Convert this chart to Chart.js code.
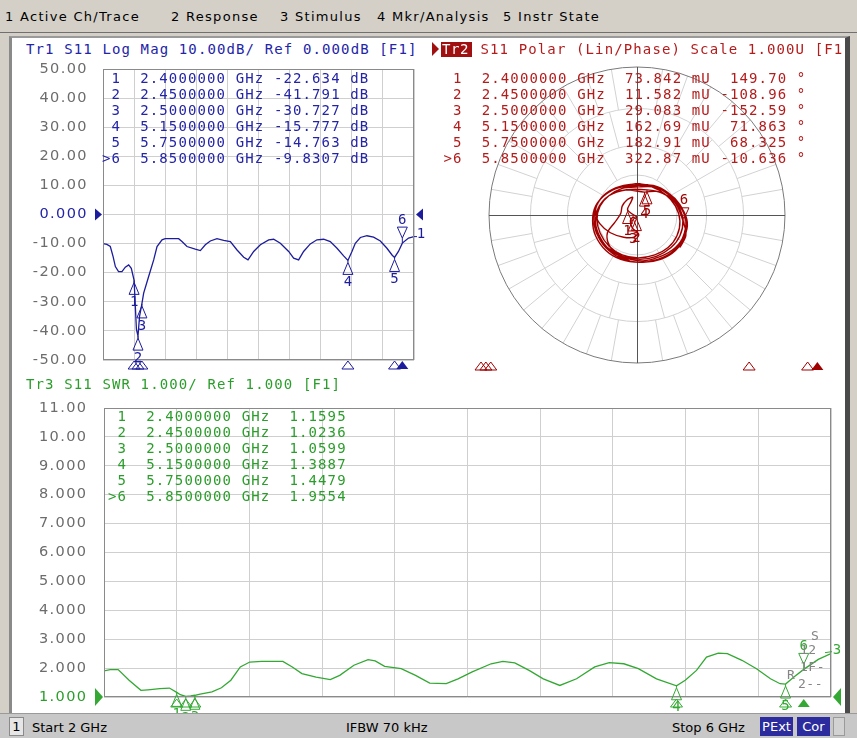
<!DOCTYPE html>
<html><head><meta charset="utf-8">
<title>VNA S11</title>
<script src="https://cdn.jsdelivr.net/npm/chart.js@4.4.1/dist/chart.umd.min.js"></script>
<style>
html,body{margin:0;padding:0}
body{width:857px;height:738px;position:relative;overflow:hidden;background:#d4d0c8;font-family:"DejaVu Sans",sans-serif}
.t{position:absolute;white-space:pre}
.menu{top:9px;font-size:13px;line-height:15px;letter-spacing:1.3px;color:#000}
#menuline{position:absolute;left:0;top:32px;width:857px;height:1px;background:#707070}
#panel{position:absolute;left:9px;top:36px;width:833px;height:676px;background:#fff;border-left:3px solid #8a8a8a;border-top:2px solid #9a9a9a;border-right:5px solid #4a4a4a}
.mono{font-family:"DejaVu Sans Mono",monospace;font-size:14px;letter-spacing:1.12px}
canvas{position:absolute}
#status{position:absolute;left:0;top:713px;width:857px;height:25px;background:#c8c8c8;border-top:1px solid #9a9a9a}
.st{position:absolute;top:720px;font-size:13px;line-height:15px;white-space:pre;color:#000}
.box{position:absolute;top:717px;height:19px;line-height:19px;font-size:13px;text-align:center;white-space:pre}
.blue{color:#2424a8}.red{color:#b41c1c}.green{color:#2a9e2a}.gray{color:#858585}
</style>
</head>
<body>
<div class="t menu" style="left:5px">1 Active Ch/Trace</div>
<div class="t menu" style="left:171px">2 Response</div>
<div class="t menu" style="left:280px">3 Stimulus</div>
<div class="t menu" style="left:377px">4 Mkr/Analysis</div>
<div class="t menu" style="left:503px">5 Instr State</div>
<div id="menuline"></div>
<div id="panel"></div>

<canvas id="c1" width="432" height="320" style="left:0;top:60px"></canvas>
<canvas id="c2" width="420" height="320" style="left:425px;top:60px"></canvas>
<canvas id="c3" width="845" height="316" style="left:0;top:398px"></canvas>

<!-- Trace 1 header + marker table -->
<div class="t mono blue" style="left:26px;top:40.7px;line-height:16px">Tr1 S11 Log Mag 10.00dB/ Ref 0.000dB [F1]</div>
<div class="t mono blue" style="left:102px;top:71px;line-height:15.9px"> 1  2.4000000 GHz -22.634 dB
 2  2.4500000 GHz -41.791 dB
 3  2.5000000 GHz -30.727 dB
 4  5.1500000 GHz -15.777 dB
 5  5.7500000 GHz -14.763 dB
>6  5.8500000 GHz -9.8307 dB</div>

<!-- Trace 2 header + marker table -->
<div style="position:absolute;left:432px;top:42px;width:0;height:0;border-top:7px solid transparent;border-bottom:7px solid transparent;border-left:7px solid #a01010"></div>
<div class="t mono" style="left:441px;top:41.5px;width:31px;height:15px;line-height:15px;background:#a01010;color:#fff;letter-spacing:0.6px;padding-left:1px;box-sizing:border-box">Tr2</div>
<div class="t mono red" style="left:480.5px;top:40.7px;line-height:16px;width:364px;overflow:hidden">S11 Polar (Lin/Phase) Scale 1.000U [F1]</div>
<div class="t mono red" style="left:443.5px;top:71px;line-height:15.9px"> 1  2.4000000 GHz  73.842 mU  149.70 °
 2  2.4500000 GHz  11.582 mU -108.96 °
 3  2.5000000 GHz  29.083 mU -152.59 °
 4  5.1500000 GHz  162.69 mU  71.863 °
 5  5.7500000 GHz  182.91 mU  68.325 °
>6  5.8500000 GHz  322.87 mU -10.636 °</div>

<!-- Trace 3 header + marker table -->
<div class="t mono green" style="left:26px;top:375.5px;line-height:16px">Tr3 S11 SWR 1.000/ Ref 1.000 [F1]</div>
<div class="t mono green" style="left:108px;top:408.3px;line-height:16px"> 1  2.4000000 GHz  1.1595
 2  2.4500000 GHz  1.0236
 3  2.5000000 GHz  1.0599
 4  5.1500000 GHz  1.3887
 5  5.7500000 GHz  1.4479
>6  5.8500000 GHz  1.9554</div>

<!-- port annotations near SWR trace end -->
<div class="t mono gray" style="left:811px;top:628px;font-size:13px;letter-spacing:0.5px;line-height:15px">S</div>
<div class="t mono gray" style="left:800px;top:642px;font-size:13px;letter-spacing:0.5px;line-height:15px">12</div>
<div class="t mono gray" style="left:800px;top:659px;font-size:13px;letter-spacing:0.5px;line-height:15px">1F-</div>
<div class="t mono gray" style="left:787px;top:667px;font-size:13px;letter-spacing:0.5px;line-height:15px">R</div>
<div class="t mono gray" style="left:798px;top:676px;font-size:13px;letter-spacing:0.5px;line-height:15px">2--</div>

<!-- status bar -->
<div id="status"></div>
<div class="box" style="left:9px;width:15px;background:#e6e6e6;border:1px solid #8a8a8a;box-sizing:border-box;line-height:17px">1</div>
<div class="st" style="left:32px">Start 2 GHz</div>
<div class="st" style="left:346px">IFBW 70 kHz</div>
<div class="st" style="left:672px">Stop 6 GHz</div>
<div class="box" style="left:760px;width:33px;background:#2c2c9e;color:#fff">PExt</div>
<div class="box" style="left:797px;width:33px;background:#2c2c9e;color:#fff">Cor</div>
<div class="box" style="left:833px;width:12px;background:#d2d2d2;border:1px solid #9a9a9a;box-sizing:border-box"></div>

<script>
// ---------------- data ----------------
const FREQ_LM = [2.000,2.050,2.094,2.130,2.159,2.200,2.244,2.287,2.330,2.364,2.400,2.416,2.430,2.450,2.470,2.500,2.523,2.587,2.652,2.695,2.759,2.800,2.973,3.016,3.080,3.187,3.252,3.316,3.380,3.466,3.552,3.638,3.724,3.810,3.865,3.938,4.024,4.131,4.195,4.281,4.388,4.452,4.516,4.580,4.666,4.752,4.838,4.923,5.010,5.095,5.150,5.202,5.245,5.310,5.395,5.480,5.567,5.652,5.720,5.750,5.800,5.850,5.930,6.000];
const LOGMAG_DB = [-10.0,-10.3,-11.0,-14.5,-17.9,-19.6,-19.6,-18.1,-17.3,-18.5,-22.634,-31.7,-39.5,-41.791,-35.0,-30.727,-27.0,-21.3,-15.6,-11.0,-8.7,-8.3,-8.3,-9.3,-11.0,-11.9,-12.4,-10.4,-9.1,-8.3,-8.9,-9.3,-12.2,-14.7,-15.6,-12.7,-10.4,-8.7,-8.5,-9.9,-12.7,-15.0,-15.6,-12.7,-10.1,-8.7,-8.5,-9.3,-11.6,-14.2,-15.777,-12.7,-9.9,-7.9,-7.3,-7.8,-9.1,-11.6,-14.0,-14.763,-12.7,-9.8307,-8.1,-7.6];

const FREQ_SWR = [2.000,2.034,2.078,2.138,2.203,2.242,2.307,2.360,2.400,2.420,2.450,2.477,2.500,2.529,2.594,2.646,2.698,2.750,2.802,2.867,2.984,3.036,3.089,3.167,3.245,3.297,3.375,3.453,3.492,3.544,3.635,3.714,3.792,3.883,3.948,4.026,4.130,4.195,4.260,4.339,4.417,4.508,4.600,4.700,4.780,4.860,4.940,5.040,5.150,5.198,5.260,5.315,5.380,5.430,5.510,5.590,5.667,5.720,5.750,5.796,5.850,5.930,6.000];
const SWR_VAL = [1.90,1.95,1.95,1.58,1.23,1.25,1.29,1.31,1.1595,1.08,1.0236,1.04,1.0599,1.10,1.18,1.32,1.58,2.04,2.21,2.23,2.23,2.04,1.81,1.69,1.60,1.75,2.10,2.29,2.25,2.06,1.98,1.75,1.48,1.46,1.63,1.87,2.15,2.23,2.18,1.92,1.63,1.40,1.63,2.04,2.19,2.15,1.98,1.63,1.3887,1.58,1.92,2.38,2.52,2.50,2.27,1.98,1.63,1.46,1.4479,1.69,1.9554,2.30,2.50];

const POLAR_RE = [-0.05,-0.13,-0.19,-0.20,-0.15,-0.11,-0.10,-0.07,-0.03,-0.04,-0.064,-0.035,-0.004,-0.012,-0.026,-0.045,-0.03,0.005,-0.02,-0.09,-0.18,-0.25,
 -0.28,-0.26,-0.19,-0.09,0.02,
 0.12,0.21,0.28,0.31,0.29,0.23,0.13,0.02,-0.10,-0.20,-0.27,-0.29,-0.27,-0.20,-0.10,0.01,
 0.11,0.21,0.29,0.33,0.31,0.25,0.14,0.02,-0.11,-0.21,-0.28,-0.30,-0.28,-0.21,-0.11,0.00,
 0.10,0.19,0.26,0.29,0.27,0.21,0.12,0.01,-0.10,-0.19,-0.25,-0.27,-0.25,-0.19,-0.10,0.01,
 0.11,0.21,0.29,0.33,0.32,0.26,0.16,0.04,-0.08,-0.18,-0.25,-0.28,-0.26,-0.19,-0.08,0.0506,
 0.13,0.22,0.30,0.34,0.32,0.26,0.16,0.04,-0.09,-0.19,-0.26,-0.28,-0.26,-0.19,-0.07,0.0676,
 0.17,0.26,0.3173,0.33,0.29];
const POLAR_IM = [-0.31,-0.27,-0.20,-0.12,-0.05,0.01,0.06,0.10,0.12,0.09,0.037,0.008,-0.011,-0.024,-0.013,-0.04,-0.09,-0.12,-0.15,-0.15,-0.12,-0.06,
 0.01,0.09,0.16,0.20,0.21,
 0.19,0.14,0.06,-0.04,-0.14,-0.22,-0.28,-0.30,-0.28,-0.22,-0.13,-0.03,0.07,0.15,0.19,0.20,
 0.20,0.15,0.06,-0.04,-0.15,-0.24,-0.30,-0.32,-0.30,-0.24,-0.14,-0.04,0.06,0.14,0.19,0.21,
 0.19,0.14,0.06,-0.04,-0.14,-0.22,-0.27,-0.29,-0.27,-0.21,-0.12,-0.03,0.06,0.13,0.18,0.19,
 0.19,0.15,0.07,-0.03,-0.13,-0.22,-0.28,-0.31,-0.29,-0.24,-0.15,-0.05,0.05,0.13,0.17,0.1546,
 0.16,0.12,0.05,-0.05,-0.15,-0.24,-0.30,-0.32,-0.30,-0.24,-0.15,-0.05,0.05,0.13,0.17,0.170,
 0.15,0.08,-0.0596,-0.14,-0.22];

const MARKER_FREQ   = [2.40, 2.45, 2.50, 5.15, 5.75, 5.85];
const MARKER_LOGMAG = [-22.634, -41.791, -30.727, -15.777, -14.763, -9.8307];
const MARKER_SWR    = [1.1595, 1.0236, 1.0599, 1.3887, 1.4479, 1.9554];
const MARKER_MAG_U  = [0.073842, 0.011582, 0.029083, 0.16269, 0.18291, 0.32287];
const MARKER_PHASE  = [149.70, -108.96, -152.59, 71.863, 68.325, -10.636];
const ACTIVE_MARKER = 5;

const FREQ_GRID   = [2.0,2.4,2.8,3.2,3.6,4.0,4.4,4.8,5.2,5.6,6.0];
const LOGMAG_TICKS = [50,40,30,20,10,0,-10,-20,-30,-40,-50];
const SWR_TICKS    = [11,10,9,8,7,6,5,4,3,2,1];
const POLAR_RINGS  = [0.27,0.47,0.72,1.0];
const REF_LOGMAG = 0, REF_SWR = 1;

// ---------------- styles ----------------
const GRID='#cfcfcf', FRAME='#8a8a8a', TICKC='#6c6c6c';
const BLUE='#2424a8', BLUE_TR='#1c1c9c';
const RED='#b41c1c', RED_TR='#a00000';
const GREEN='#2a9e2a', GREEN_TR='#33a833';

function tri(ctx,pts,fill){
  ctx.beginPath(); ctx.moveTo(pts[0][0],pts[0][1]);
  for(let i=1;i<pts.length;i++) ctx.lineTo(pts[i][0],pts[i][1]);
  ctx.closePath(); fill?ctx.fill():ctx.stroke();
}
function drawMarker(ctx,x,y,label,active,color){
  ctx.save();
  ctx.strokeStyle=color; ctx.fillStyle=color; ctx.lineWidth=1;
  ctx.font='14px "DejaVu Sans Mono"'; ctx.textAlign='center'; ctx.textBaseline='middle';
  if(active){
    ctx.beginPath(); ctx.moveTo(x,y); ctx.lineTo(x,y-5); ctx.stroke();
    tri(ctx,[[x,y-5],[x-5,y-16],[x+5,y-16]],false);
    ctx.fillText(label,x,y-23);
  }else{
    ctx.beginPath(); ctx.moveTo(x,y); ctx.lineTo(x,y+2); ctx.stroke();
    tri(ctx,[[x,y+2],[x-5,y+14],[x+5,y+14]],false);
    ctx.fillText(label,x,y+22);
  }
  ctx.restore();
}
function drawPos(ctx,x,yTop,active,color){
  ctx.save(); ctx.strokeStyle=color; ctx.fillStyle=color; ctx.lineWidth=1;
  tri(ctx,[[x,yTop],[x-6,yTop+8],[x+6,yTop+8]],active);
  ctx.restore();
}
function frame(ctx,a){
  ctx.save(); ctx.strokeStyle=FRAME; ctx.lineWidth=1;
  ctx.strokeRect(Math.round(a.left)+0.5,Math.round(a.top)+0.5,Math.round(a.right-a.left)-1,Math.round(a.bottom-a.top)-1);
  ctx.restore();
}
const spacing={id:'spacing',beforeDraw(ch){ch.ctx.letterSpacing='1.4px';},afterDraw(ch){ch.ctx.letterSpacing='0px';}};

function rectOptions(pad,yWidth,yPad,yTicks,fmt,refVal,refColor){
  return {
    responsive:false, animation:false, devicePixelRatio:1,
    layout:{padding:pad, autoPadding:false},
    plugins:{legend:{display:false},tooltip:{enabled:false}},
    scales:{
      x:{type:'linear',min:FREQ_GRID[0],max:FREQ_GRID[FREQ_GRID.length-1],
         afterBuildTicks:s=>{s.ticks=FREQ_GRID.map(v=>({value:v}));},
         afterFit:s=>{s.height=0;s.paddingLeft=0;s.paddingRight=0;s.paddingTop=0;s.paddingBottom=0;},
         ticks:{display:false}, grid:{color:GRID,drawTicks:false,lineWidth:1}, border:{display:false}},
      y:{type:'linear',min:Math.min(...yTicks),max:Math.max(...yTicks),
         afterBuildTicks:s=>{s.ticks=yTicks.slice().reverse().map(v=>({value:v}));},
         afterFit:s=>{s.width=yWidth;s.paddingTop=0;s.paddingBottom=0;s.paddingLeft=0;s.paddingRight=0;},
         ticks:{autoSkip:false,padding:yPad,callback:fmt,
                color:c=>(c.tick && c.tick.value===refVal)?refColor:TICKC,
                font:{family:'DejaVu Sans',size:14.5}},
         grid:{color:GRID,drawTicks:false,lineWidth:1}, border:{display:false}}
    }
  };
}
// nudge the layout padding until the plot area sits where the instrument draws it
function fitArea(chart,target){
  for(let k=0;k<4;k++){
    const a=chart.chartArea, p=Object.assign({},chart.options.layout.padding);
    const dl=target.left-a.left, dr=a.right-target.right, dt=target.top-a.top, db=a.bottom-target.bottom;
    if(Math.abs(dl)+Math.abs(dr)+Math.abs(dt)+Math.abs(db)<0.5) break;
    p.left=Math.max(0,p.left+dl); p.right=Math.max(0,p.right+dr); p.top=Math.max(0,p.top+dt); p.bottom=Math.max(0,p.bottom+db);
    chart.options.layout.padding=p;
    chart.update('none');
  }
}

// ---------- Trace 1: Log Mag ----------
const lmPlugin={id:'lm',afterDatasetsDraw(ch){
  const {ctx,chartArea:a,scales:{x,y}}=ch;
  ctx.save(); ctx.letterSpacing='0px';
  frame(ctx,a);
  ctx.fillStyle=BLUE_TR; ctx.strokeStyle=BLUE_TR;
  const y0=y.getPixelForValue(REF_LOGMAG);
  tri(ctx,[[a.left-8,y0-6],[a.left-1,y0],[a.left-8,y0+6]],true);
  tri(ctx,[[a.right+9,y0-6],[a.right+2,y0],[a.right+9,y0+6]],true);
  MARKER_FREQ.forEach((f,i)=>{
    const px=x.getPixelForValue(f);
    drawMarker(ctx,px,y.getPixelForValue(MARKER_LOGMAG[i]),String(i+1),i===ACTIVE_MARKER,BLUE_TR);
    drawPos(ctx,px,a.bottom+1,i===ACTIVE_MARKER,BLUE_TR);
  });
  const ye=y.getPixelForValue(LOGMAG_DB[LOGMAG_DB.length-1]);
  ctx.lineWidth=1; ctx.beginPath(); ctx.moveTo(a.right,ye); ctx.lineTo(a.right+3,ye); ctx.stroke();
  ctx.font='14px "DejaVu Sans Mono"'; ctx.textAlign='center'; ctx.textBaseline='middle';
  ctx.fillText('1',a.right+7,ye-2);
  ctx.restore();
}};
const ch1=new Chart(document.getElementById('c1'),{
  type:'line',
  data:{datasets:[{data:FREQ_LM.map((f,i)=>({x:f,y:LOGMAG_DB[i]})),borderColor:BLUE_TR,borderWidth:1.3,pointRadius:0,tension:0,fill:false}]},
  options:rectOptions({left:0,right:18,top:9,bottom:20},103,15,LOGMAG_TICKS,
      v=>v===0?'0.000':v.toFixed(2),REF_LOGMAG,BLUE),
  plugins:[spacing,lmPlugin]
});
fitArea(ch1,{left:103,right:414,top:9,bottom:300});

// ---------- Trace 2: Polar ----------
const polarPlugin={id:'polar',
 beforeDatasetsDraw(ch){
  const {ctx,scales:{x,y}}=ch;
  const cx=x.getPixelForValue(0), cy=y.getPixelForValue(0), R=x.getPixelForValue(1)-cx;
  ctx.save(); ctx.lineWidth=1;
  const bands=[[POLAR_RINGS[2],POLAR_RINGS[3],10],[POLAR_RINGS[1],POLAR_RINGS[2],15],[POLAR_RINGS[0],POLAR_RINGS[1],30]];
  ctx.strokeStyle='#d2d2d2';
  bands.forEach(([r0,r1,step])=>{
    for(let d=0; d<360; d+=step){
      if(d%90===0) continue;
      const t=d*Math.PI/180;
      ctx.beginPath();
      ctx.moveTo(cx+r0*R*Math.cos(t),cy-r0*R*Math.sin(t));
      ctx.lineTo(cx+r1*R*Math.cos(t),cy-r1*R*Math.sin(t));
      ctx.stroke();
    }
  });
  POLAR_RINGS.forEach((r,i)=>{
    ctx.strokeStyle = i===POLAR_RINGS.length-1 ? '#7a7a7a' : '#d2d2d2';
    ctx.beginPath(); ctx.arc(cx,cy,r*R,0,2*Math.PI); ctx.stroke();
  });
  ctx.strokeStyle='#555'; ctx.beginPath();
  ctx.moveTo(Math.round(cx-R),Math.round(cy)+0.5); ctx.lineTo(Math.round(cx+R),Math.round(cy)+0.5);
  ctx.moveTo(Math.round(cx)+0.5,Math.round(cy-R)); ctx.lineTo(Math.round(cx)+0.5,Math.round(cy+R));
  ctx.stroke();
  ctx.restore();
 },
 afterDatasetsDraw(ch){
  const {ctx,chartArea:a,scales:{x,y}}=ch;
  ctx.save();
  MARKER_MAG_U.forEach((m,i)=>{
    const t=MARKER_PHASE[i]*Math.PI/180;
    drawMarker(ctx,x.getPixelForValue(m*Math.cos(t)),y.getPixelForValue(m*Math.sin(t)),String(i+1),i===ACTIVE_MARKER,RED_TR);
    const px=a.left-47+(MARKER_FREQ[i]-FREQ_GRID[0])*97.5;
    drawPos(ctx,px,a.bottom-1,i===ACTIVE_MARKER,RED_TR);
  });
  ctx.restore();
 }};
const ch2=new Chart(document.getElementById('c2'),{
  type:'scatter',
  data:{datasets:[{data:POLAR_RE.map((r,i)=>({x:r,y:POLAR_IM[i]})),showLine:true,borderColor:RED_TR,borderWidth:1.4,pointRadius:0,tension:0.3,fill:false}]},
  options:{responsive:false,animation:false,devicePixelRatio:1,
    layout:{padding:{left:64,right:60,top:7,bottom:17},autoPadding:false},
    plugins:{legend:{display:false},tooltip:{enabled:false}},
    scales:{x:{type:'linear',min:-1,max:1,display:false},y:{type:'linear',min:-1,max:1,display:false}}},
  plugins:[polarPlugin]
});
fitArea(ch2,{left:64,right:360,top:7,bottom:303});

// ---------- Trace 3: SWR ----------
const swrPlugin={id:'swr',afterDatasetsDraw(ch){
  const {ctx,chartArea:a,scales:{x,y}}=ch;
  ctx.save(); ctx.letterSpacing='0px';
  frame(ctx,a);
  ctx.fillStyle=GREEN_TR; ctx.strokeStyle=GREEN_TR;
  const y0=y.getPixelForValue(REF_SWR);
  tri(ctx,[[a.left-9,y0-9],[a.left-1,y0],[a.left-9,y0+9]],true);
  tri(ctx,[[a.right+10,y0-9],[a.right+2,y0],[a.right+10,y0+9]],true);
  MARKER_FREQ.forEach((f,i)=>{
    const px=x.getPixelForValue(f);
    drawMarker(ctx,px,y.getPixelForValue(MARKER_SWR[i]),String(i+1),i===ACTIVE_MARKER,GREEN_TR);
    drawPos(ctx,px,a.bottom+2,i===ACTIVE_MARKER,GREEN_TR);
  });
  const ye=y.getPixelForValue(SWR_VAL[SWR_VAL.length-1]);
  ctx.lineWidth=1; ctx.beginPath(); ctx.moveTo(a.right-6,ye-1); ctx.lineTo(a.right+1,ye-2); ctx.stroke();
  ctx.font='14px "DejaVu Sans Mono"'; ctx.textAlign='center'; ctx.textBaseline='middle';
  ctx.fillText('3',a.right+6,ye-3);
  ctx.restore();
}};
const ch3=new Chart(document.getElementById('c3'),{
  type:'line',
  data:{datasets:[{data:FREQ_SWR.map((f,i)=>({x:f,y:SWR_VAL[i]})),borderColor:GREEN_TR,borderWidth:1.3,pointRadius:0,tension:0,fill:false}]},
  options:rectOptions({left:0,right:14,top:10,bottom:17},104,16.5,SWR_TICKS,
      v=>Math.abs(v)>=10?v.toFixed(2):v.toFixed(3),REF_SWR,GREEN),
  plugins:[spacing,swrPlugin]
});
fitArea(ch3,{left:104,right:831,top:10,bottom:299});
</script>
</body></html>
